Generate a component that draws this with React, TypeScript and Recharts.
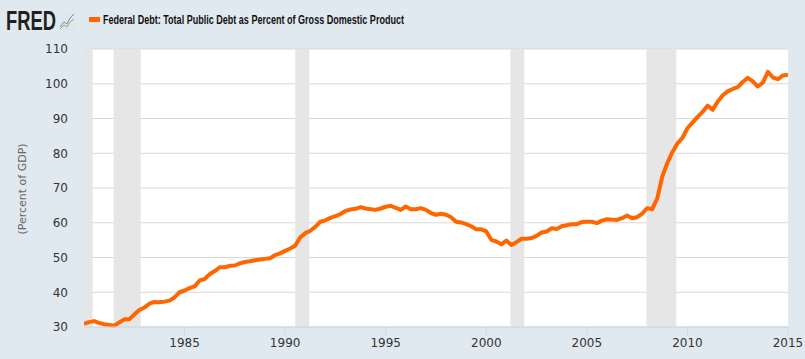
import { LineChart, Line, XAxis, YAxis, CartesianGrid, ReferenceArea } from "recharts";

const startYear = 1980;
const debtPct = [
  30.9, 31.4, 31.7, 31.2, // 1980
  30.8, 30.6, 30.4, 31.3, // 1981
  32.2, 32.2, 33.6, 34.9, // 1982
  35.6, 36.7, 37.2, 37.1, // 1983
  37.3, 37.6, 38.5, 40.0, // 1984
  40.5, 41.2, 41.7, 43.4, // 1985
  43.8, 45.2, 46.1, 47.2, // 1986
  47.2, 47.6, 47.7, 48.3, // 1987
  48.7, 48.9, 49.2, 49.4, // 1988
  49.6, 49.8, 50.7, 51.2, // 1989
  51.9, 52.6, 53.4, 55.8, // 1990
  57.0, 57.7, 58.8, 60.3, // 1991
  60.7, 61.4, 61.9, 62.5, // 1992
  63.4, 63.8, 64.0, 64.5, // 1993
  64.1, 63.9, 63.7, 64.1, // 1994
  64.6, 64.9, 64.3, 63.7, // 1995
  64.7, 63.9, 63.9, 64.2, // 1996
  63.7, 62.8, 62.3, 62.6, // 1997
  62.3, 61.6, 60.3, 60.1, // 1998
  59.6, 59.0, 58.1, 58.1, // 1999
  57.5, 55.1, 54.6, 53.8, // 2000
  54.9, 53.6, 54.4, 55.4, // 2001
  55.4, 55.6, 56.2, 57.2, // 2002
  57.5, 58.4, 58.2, 59.0, // 2003
  59.3, 59.6, 59.6, 60.2, // 2004
  60.3, 60.3, 59.9, 60.6, // 2005
  61.0, 60.9, 60.8, 61.3, // 2006
  62.1, 61.3, 61.6, 62.6, // 2007
  64.2, 63.9, 67.0, 73.3, // 2008
  77.2, 80.3, 82.8, 84.4, // 2009
  87.2, 88.8, 90.4, 91.9, // 2010
  93.7, 92.5, 94.8, 96.6, // 2011
  97.8, 98.5, 99.0, 100.5, // 2012
  101.7, 100.7, 99.2, 100.3, // 2013
  103.4, 101.8, 101.3, 102.4, // 2014
  102.6, // 2015
];

// recession bands (start, end) in decimal years
const recessions: [number, number][] = [
  [1980.0, 1980.43],
  [1981.47, 1982.82],
  [1990.5, 1991.2],
  [2001.2, 2001.89],
  [2007.96, 2009.45],
];

const xTicks = [1985, 1990, 1995, 2000, 2005, 2010, 2015];
const yTicks = [30, 40, 50, 60, 70, 80, 90, 100, 110];

const rows = debtPct.map((v, i) => ({ t: startYear + i / 4, v }));

const BG = "#e1e9f0";
const tickFont = { fontFamily: "DejaVu Sans", fontSize: 12, fill: "#333333" };

export default function App() {
  return (
    <div style={{ position: "absolute", left: 0, top: 0, width: 805, height: 359, background: BG }}>
      <LineChart width={805} height={359} data={rows} margin={{ top: 49, right: 17, bottom: 0, left: 24 }}>
        <CartesianGrid vertical={false} stroke="#d8d8d8" fill="#ffffff" />
        {recessions.map(([a, b], i) => (
          <ReferenceArea key={i} x1={a} x2={b} fill="#e6e6e6" fillOpacity={1} stroke="none" />
        ))}
        <XAxis
          dataKey="t"
          type="number"
          domain={[1980, 2015]}
          ticks={xTicks}
          allowDataOverflow
          height={32}
          stroke="#ccd6eb"
          tickSize={8}
          tickMargin={3}
          tick={tickFont}
        />
        <YAxis
          type="number"
          domain={[30, 110]}
          ticks={yTicks}
          width={60}
          axisLine={false}
          tickLine={false}
          tickSize={0}
          tickMargin={16}
          tick={tickFont}
        />
        <Line
          dataKey="v"
          type="linear"
          stroke="#ff6600"
          strokeWidth={4}
          strokeLinejoin="round"
          dot={false}
          isAnimationActive={false}
        />
      </LineChart>
      <svg width={805} height={359} style={{ position: "absolute", left: 0, top: 0, pointerEvents: "none" }}>
        {/* FRED wordmark */}
        <text
          x={6}
          y={30}
          fontFamily="Liberation Sans"
          fontWeight="bold"
          fontSize={27}
          fill="#231f20"
          textLength={50}
          lengthAdjust="spacingAndGlyphs"
        >
          FRED
        </text>
        <rect x={59} y={12} width={16} height={18} fill="#dfe6ec" />
        <polyline points="60,27 64,22 67,24 70,18 74,14" fill="none" stroke="#6b8fb5" strokeWidth={1} />
        <polyline points="60,29 64,25 67,27 70,22 74,19" fill="none" stroke="#8bb55a" strokeWidth={1} />
        {/* legend */}
        <rect x={89} y={17} width={11} height={5} fill="#ff6600" />
        <text
          x={103}
          y={24}
          fontFamily="Liberation Sans"
          fontWeight="bold"
          fontSize={13.5}
          fill="#111111"
          textLength={301}
          lengthAdjust="spacingAndGlyphs"
        >
          Federal Debt: Total Public Debt as Percent of Gross Domestic Product
        </text>
        {/* axis title */}
        <text
          x={22}
          y={189}
          transform="rotate(-90 22 189)"
          textAnchor="middle"
          dominantBaseline="central"
          fontFamily="DejaVu Sans"
          fontSize={11}
          fill="#666666"
        >
          (Percent of GDP)
        </text>
      </svg>
    </div>
  );
}
